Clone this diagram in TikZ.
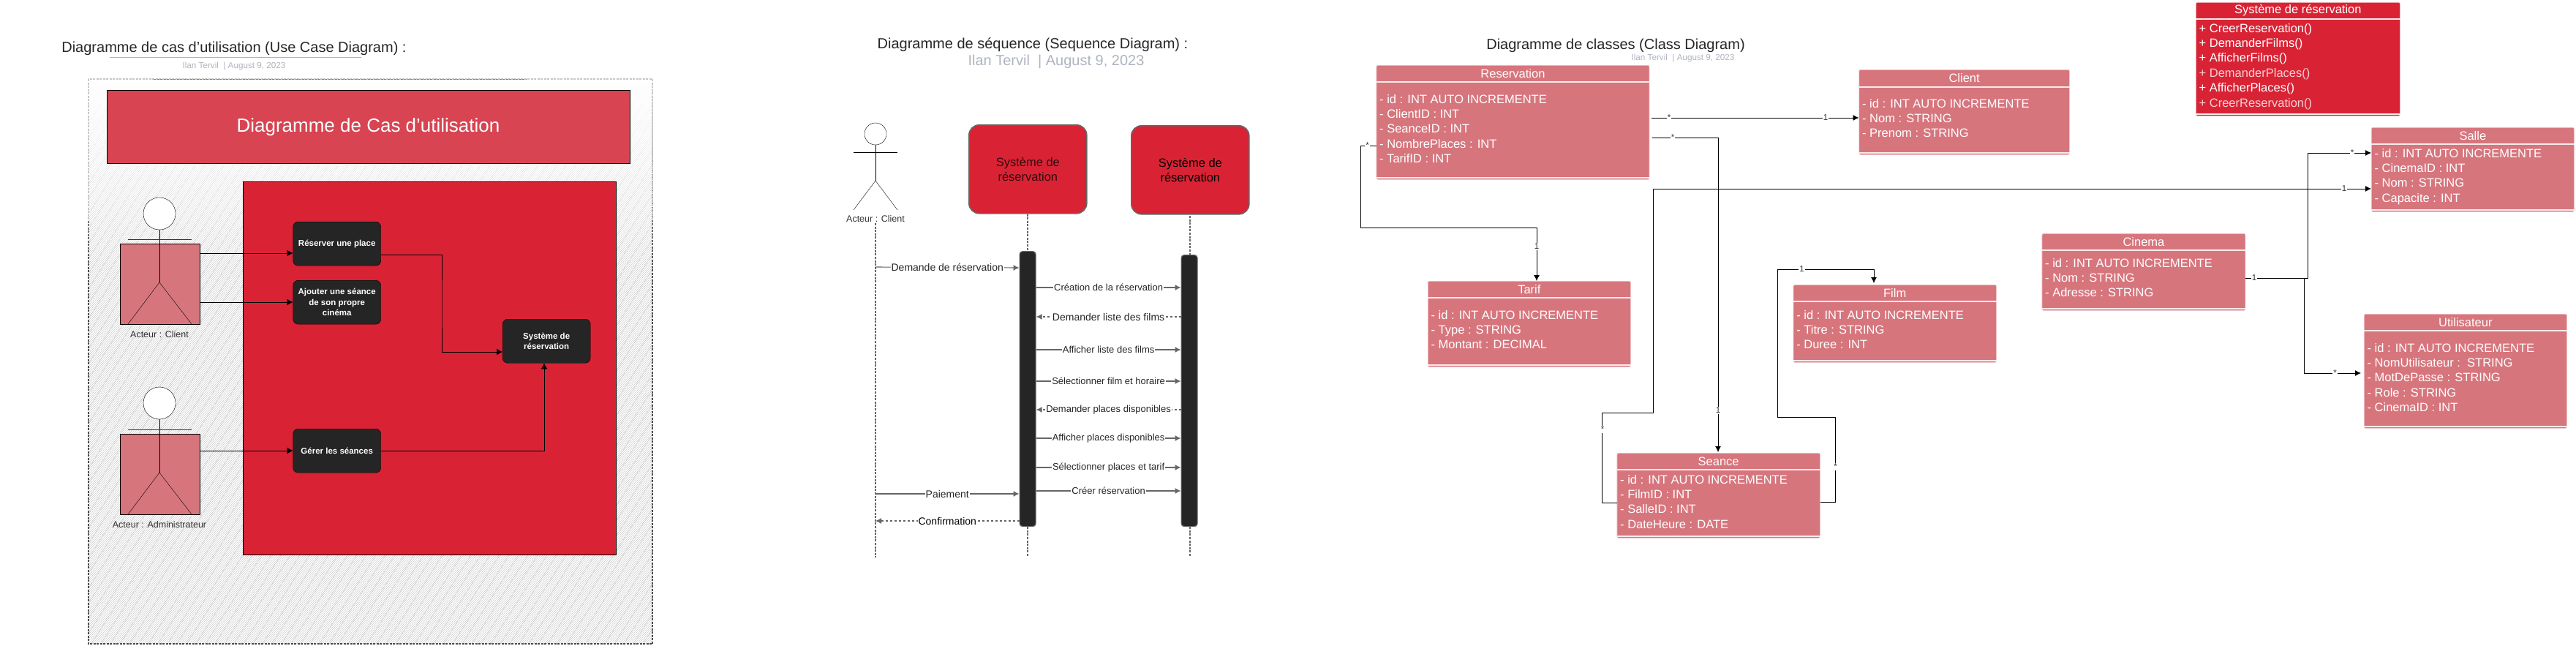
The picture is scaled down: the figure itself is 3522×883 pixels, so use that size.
\documentclass[tikz,border=0pt]{standalone}
\usepackage{fontspec}
\setmainfont{Liberation Sans}
\usetikzlibrary{arrows.meta,fadings}
\definecolor{sysred}{HTML}{D92335}
\definecolor{headred}{HTML}{D84452}
\definecolor{rose}{HTML}{D7757D}
\definecolor{roseedge}{HTML}{F0BEC3}
\definecolor{darkcase}{HTML}{252525}
\definecolor{subgrey}{HTML}{AEB4BF}
\definecolor{msggrey}{HTML}{666666}
\colorlet{classfill}{rose}
\tikzset{
  pagetitle/.style={font=\fontsize{20}{24}\selectfont, text=black!85},
  pagesub/.style={font=\fontsize{11.7}{14}\selectfont, text=subgrey},
  usecase/.style={rectangle, rounded corners=7pt, draw=black, fill=darkcase, text=white, anchor=north west,
    minimum width=120pt, minimum height=60pt, align=center, inner sep=2pt, font=\fontsize{11.5}{14.5}\selectfont\bfseries},
  actorlabel/.style={font=\fontsize{12.5}{15}\selectfont, text=black!80},
  actorbody/.style={rectangle, draw=black, fill=rose, anchor=north west, minimum width=109pt, minimum height=110pt},
  actorhead/.style={circle, draw=black, fill=white, minimum size=44pt, inner sep=0pt},
  caselink/.style={-{Latex[length=8pt,width=9pt]}, draw=black, line width=0.9pt},
  hatchline/.style={draw=black!20, line width=0.5pt},
  framedash/.style={line width=1.2pt, dash pattern=on 3pt off 1.5pt},
  seqbox/.style={rectangle, rounded corners=14pt, draw=msggrey, line width=1.6pt, fill=sysred, anchor=north west,
    minimum width=161pt, minimum height=121pt, align=center, font=\fontsize{16.5}{20}\selectfont},
  activation/.style={rectangle, rounded corners=4pt, draw=msggrey, line width=1.2pt, fill=darkcase, anchor=north west, minimum width=22pt},
  lifeline/.style={draw=msggrey, line width=2pt, dash pattern=on 3pt off 1.6pt},
  msg/.style={-{Latex[length=8pt,width=8pt]}, draw=msggrey, line width=1.1pt},
  msgreply/.style={msg, dash pattern=on 3pt off 3pt},
  msglabel/.style={fill=white, inner sep=1pt, text=black!85, font=\fontsize{13}{15}\selectfont},
  classbody/.style={rectangle, rounded corners=2pt, draw=roseedge, line width=0.7pt, fill=classfill, anchor=north west, inner sep=0pt},
  classrule/.style={draw=white!85!rose, line width=1.8pt},
  classtitle/.style={text=white, font=\fontsize{16.5}{20}\selectfont},
  classattr/.style={anchor=north west, inner sep=0pt, text=white, align=left, font=\fontsize{16.5}{20.4}\selectfont},
  classlink/.style={-{Latex[length=8pt,width=8pt]}, draw=black, line width=0.9pt},
  classline/.style={draw=black, line width=0.9pt},
  multlabel/.style={fill=white, inner sep=1pt, text=black!80, font=\fontsize{11.5}{13}\selectfont},
}
% name, x, y, width, height, header height, attribute offset, title, attributes
\newcommand{\classbox}[9]{%
  \node[classbody, minimum width=#4pt, minimum height=#5pt] (#1) at (#2,#3) {};
  \path (#1.north west) ++(0,#6) coordinate (#1head);
  \path (#1.south west) ++(0,-3) coordinate (#1foot);
  \draw[classrule] (#1head) -- (#1head -| #1.east);
  \draw[classrule] (#1foot) -- (#1foot -| #1.east);
  \path (#1.north) ++(0,{#6/2}) node[classtitle] (#1title) {#8};
  \path (#1.north west) ++(4.4,#7) node[classattr] (#1attr) {#9};
}
\begin{document}
\begin{tikzpicture}[x=1pt,y=-1pt]
  \useasboundingbox (0,0) rectangle (3522,883);
  % use case panel
  \node[pagetitle] (casetitle) at (320,66) {Diagramme de cas d'utilisation (Use Case Diagram) :};
  \coordinate (caseruleA) at (150,78);
  \coordinate (caseruleB) at (494,78);
  \draw[subgrey, line width=1pt] (caseruleA) -- (caseruleB);
  \node[pagesub] (casesub) at (320,91) {Ilan Tervil \ | August 9, 2023};
  \begin{scope}
    \clip (121,108) rectangle (892,880);
    \foreach \d in {0,3,...,1545}
      \draw[hatchline] (121+\d,108) -- ++(-772,772);
    \foreach \d in {0,13,...,1780}
      \draw[hatchline] (121+\d,108) -- ++(-490,772);
  \end{scope}
  \draw[framedash, black!70] (121,108) rectangle (892,880);
  \fill[white, path fading=south] (118,105) rectangle (895,370);
  \draw[framedash, black!22] (121,300) -- (121,108) -- (892,108) -- (892,300);
  \coordinate (frametopA) at (210,108);
  \coordinate (frametopB) at (720,108);
  \draw[framedash, black!50, line width=1pt] (frametopA) -- (frametopB);
  \node[rectangle, draw=black, line width=1pt, fill=headred, anchor=north west, minimum width=715pt, minimum height=100pt,
    text=white, font=\fontsize{26}{30}\selectfont] (casehead) at (145.5,123) {Diagramme de Cas d'utilisation};
  \node[rectangle, draw=black, line width=1pt, fill=sysred, anchor=north west, minimum width=510pt, minimum height=510pt] (casesys) at (332,248) {};
  % actors
  \node[actorbody] (clientbody) at (164,333) {};
  \node[actorhead] (clienthead) at (218,292) {};
  \coordinate (clienthip) at (218,386);
  \coordinate (clientfootL) at (175,443);
  \coordinate (clientfootR) at (262,443);
  \coordinate (clientarmL) at (175,327);
  \coordinate (clientarmR) at (262,327);
  \draw (clienthead) -- (clienthip);
  \draw (clientfootL) -- (clienthip) -- (clientfootR);
  \draw[line width=1pt, black!80] (clientarmL) -- (clientarmR);
  \node[actorlabel] (clientlabel) at (218,457) {Acteur : Client};
  \node[actorbody] (adminbody) at (164,593) {};
  \node[actorhead] (adminhead) at (218,551) {};
  \coordinate (adminhip) at (218,646);
  \coordinate (adminfootL) at (175,703);
  \coordinate (adminfootR) at (262,703);
  \coordinate (adminarmL) at (175,587);
  \coordinate (adminarmR) at (262,587);
  \draw (adminhead) -- (adminhip);
  \draw (adminfootL) -- (adminhip) -- (adminfootR);
  \draw[line width=1pt, black!80] (adminarmL) -- (adminarmR);
  \node[actorlabel] (adminlabel) at (218,717) {Acteur : Administrateur};
  % use cases
  \node[usecase] (reserver) at (400.5,303) {Réserver une place};
  \node[usecase] (ajouter) at (400.5,383) {Ajouter une séance\\de son propre\\cinéma};
  \node[usecase] (gerer) at (400.5,586) {Gérer les séances};
  \node[usecase] (systeme) at (687,436) {Système de\\réservation};
  \draw[caselink] (clientbody.east |- 0,346) -- (reserver.west |- 0,346);
  \draw[caselink] (clientbody.east |- 0,413) -- (ajouter.west |- 0,413);
  \draw[caselink] (adminbody.east |- 0,616) -- (gerer.west |- 0,616);
  \draw[caselink] (reserver.east |- 0,348) -| (604,415) |- (systeme.west |- 0,481);
  \draw[caselink] (gerer.east |- 0,616) -| (744,0 |- systeme.south);
  % sequence panel
  \node[pagetitle] (seqtitle) at (1412,61) {Diagramme de séquence (Sequence Diagram) :};
  \node[pagesub, font=\fontsize{20}{24}\selectfont] (seqsub) at (1444,84) {Ilan Tervil \ | August 9, 2023};
  \node[circle, draw=black, minimum size=30pt, inner sep=0pt] (seqhead) at (1197,183) {};
  \coordinate (seqhip) at (1197,247);
  \coordinate (seqfootL) at (1167,287);
  \coordinate (seqfootR) at (1227,287);
  \coordinate (seqarmL) at (1167,208);
  \coordinate (seqarmR) at (1227,208);
  \draw (seqhead) -- (seqhip);
  \draw (seqfootL) -- (seqhip) -- (seqfootR);
  \draw (seqarmL) -- (seqarmR);
  \node[actorlabel] (seqclient) at (1197,299) {Acteur : Client};
  \node[seqbox, text=black!75!sysred] (seqsysA) at (1324,170) {Système de\\réservation};
  \node[seqbox] (seqsysB) at (1546,171) {Système de\\réservation};
  \node[activation, minimum height=376pt] (actA) at (1393.5,343) {};
  \node[activation, minimum height=371pt] (actB) at (1614.5,348) {};
  \coordinate (lifeC) at (1197,305);
  \coordinate (lifeCend) at (1197,762);
  \coordinate (lifeAend) at (1405,760);
  \coordinate (lifeBtop) at (1627,295);
  \coordinate (lifeBend) at (1627,760);
  \draw[lifeline] (lifeC) -- (lifeCend);
  \draw[lifeline] (seqsysA.south -| actA.north) -- (actA.north);
  \draw[lifeline] (actA.south) -- (lifeAend -| actA.south);
  \draw[lifeline] (lifeBtop) -- (actB.north -| lifeBtop);
  \draw[lifeline] (actB.south -| lifeBend) -- (lifeBend);
  \draw[msg] (lifeC |- 0,365) -- node[msglabel, font=\fontsize{14}{16}\selectfont] (msgdemande) {Demande de réservation} (actA.west |- 0,366);
  \draw[msg] (actA.east |- 0,393) -- node[msglabel] (msgcreation) {Création de la réservation} (actB.west |- 0,393);
  \draw[msgreply] (actB.west |- 0,433) -- node[msglabel, font=\fontsize{14}{16}\selectfont] (msgfilms) {Demander liste des films} (actA.east |- 0,433);
  \draw[msg] (actA.east |- 0,478) -- node[msglabel] (msgliste) {Afficher liste des films} (actB.west |- 0,478);
  \draw[msg] (actA.east |- 0,521) -- node[msglabel] (msgfilm) {Sélectionner film et horaire} (actB.west |- 0,521);
  \draw[msgreply] (actB.west |- 0,560) -- node[msglabel] (msgplaces) {Demander places disponibles} (actA.east |- 0,560);
  \draw[msg] (actA.east |- 0,599) -- node[msglabel] (msgdispo) {Afficher places disponibles} (actB.west |- 0,599);
  \draw[msg] (actA.east |- 0,639) -- node[msglabel] (msgtarif) {Sélectionner places et tarif} (actB.west |- 0,639);
  \draw[msg] (actA.east |- 0,671) -- node[msglabel] (msgcreer) {Créer réservation} (actB.west |- 0,671);
  \draw[msg] (lifeC |- 0,675) -- node[msglabel, font=\fontsize{14}{16}\selectfont] (msgpaie) {Paiement} (actA.west |- 0,675);
  \draw[msgreply] (actA.west |- 0,712) -- node[msglabel, text=black, font=\fontsize{14}{16}\selectfont] (msgconf) {Confirmation} (lifeC |- 0,712);
  % class panel
  \node[pagetitle] (classtitle) at (2209,62) {Diagramme de classes (Class Diagram)};
  \node[pagesub] (classsub) at (2301,80) {Ilan Tervil \ | August 9, 2023};
  \classbox{reservation}{1881.6}{89}{373}{156}{23}{40}{Reservation}{- id : INT AUTO INCREMENTE\\- ClientID : INT\\- SeanceID : INT\\- NombrePlaces : INT\\- TarifID : INT}
  \classbox{client}{2541.5}{95}{287.5}{116}{24}{40}{Client}{- id : INT AUTO INCREMENTE\\- Nom : STRING\\- Prenom : STRING}
  \classbox{tarif}{1952}{384}{277}{117}{23}{40}{Tarif}{- id : INT AUTO INCREMENTE\\- Type : STRING\\- Montant : DECIMAL}
  \classbox{film}{2451.7}{389}{277.3}{106}{23}{35}{Film}{- id : INT AUTO INCREMENTE\\- Titre : STRING\\- Duree : INT}
  \classbox{seance}{2210.6}{619}{277.4}{116}{23}{30}{Seance}{- id : INT AUTO INCREMENTE\\- FilmID : INT\\- SalleID : INT\\- DateHeure : DATE}
  \classbox{cinema}{2791.6}{319}{277.9}{105}{23}{34}{Cinema}{- id : INT AUTO INCREMENTE\\- Nom : STRING\\- Adresse : STRING}
  \classbox{salle}{3242}{174}{277}{115}{23}{29}{Salle}{- id : INT AUTO INCREMENTE\\- CinemaID : INT\\- Nom : STRING\\- Capacite : INT}
  \classbox{utilisateur}{3232}{429}{277}{156}{23}{40}{Utilisateur}{- id : INT AUTO INCREMENTE\\- NomUtilisateur :\ \ STRING\\- MotDePasse : STRING\\- Role : STRING\\- CinemaID : INT}
  \colorlet{classfill}{sysred}
  \classbox{systemeclass}{3002}{3}{279}{155}{23}{29}{Système de réservation}{+ CreerReservation()\\+ DemanderFilms()\\+ AfficherFilms()\\\textcolor{white!78!sysred}{+ DemanderPlaces()}\\+ AfficherPlaces()\\\textcolor{white!78!sysred}{+ CreerReservation()}}
  \draw[classlink] (2258,161) -- (client.west |- 0,161);
  \draw[classlink] (2259,188) -| (2349,618);
  \draw[classlink] (reservation.west |- 0,199) -| (1860,255) |- (2101,311) -- (2101,0 |- tarif.north);
  \draw[classlink] (seance.west |- 0,687) -| (2190,625) |- (2260,564) |- (salle.west |- 0,258);
  \draw[classlink] (seance.east |- 0,686) -| (2509.5,628) |- (2430.6,570) |- (2562,368) -- (2562,387);
  \draw[classlink] (cinema.east |- 0,380) -| (3155.6,295) |- (salle.west |- 0,209);
  \draw[classlink] (3150,380) |- (3228,510);
  \foreach \xm/\ym/\txt [count=\i] in {2282/161/*, 2496/161/1, 2287/188/*, 2349/561/1, 1869.5/199/*, 2101/337/1, 2191/587/*, 3205/258/1, 2509.5/638/*, 2463.6/368/1, 3082/380/1, 3216/209/*, 3192.5/510/*}
    \node[multlabel] (mult\i) at (\xm,\ym) {\txt};
\end{tikzpicture}
\end{document}
